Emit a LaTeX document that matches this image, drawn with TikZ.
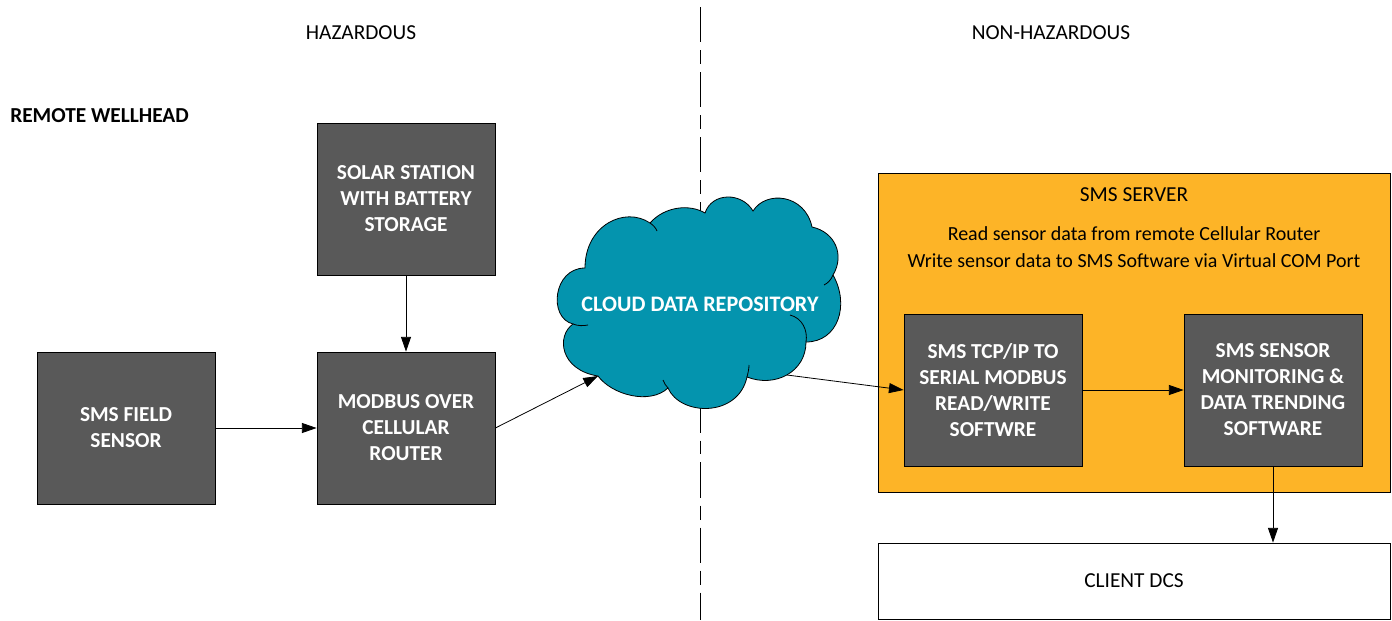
\documentclass[tikz,border=0pt]{standalone}
\usepackage{fontspec}
\setmainfont{Carlito}
\usetikzlibrary{arrows.meta}
\newlength{\pxu}\setlength{\pxu}{0.75pt}
\definecolor{boxgray}{HTML}{595959}
\definecolor{serverorange}{HTML}{FDB427}
\definecolor{cloudteal}{HTML}{0494AE}
\tikzset{
  darkbox/.style={draw=black,line width=.6pt,fill=boxgray,minimum width=178\pxu,minimum height=152\pxu,align=center,text=white,font=\fontsize{16}{19.5}\selectfont\bfseries},
  plainlabel/.style={font=\fontsize{16}{19}\selectfont,align=center},
  link/.style={draw=black,line width=.6pt,-{Triangle[length=11pt,width=7.5pt]}},
  curl/.style={line width=.6pt},
}
\begin{document}
\begin{tikzpicture}[x=0.75pt,y=-0.75pt]
  \useasboundingbox (0,0) rectangle (1392,621);
  % divider
  \draw[line width=.7pt,dash pattern=on 26.4pt off 6pt on 10.4pt off 6pt] (700,7) coordinate (divtop) -- (700,620) coordinate (divbot);
  \node[plainlabel] (hazard) at (361,33) {HAZARDOUS};
  \node[plainlabel] (nonhazard) at (1051,33) {NON-HAZARDOUS};
  \node[plainlabel,font=\fontsize{16}{19}\selectfont\bfseries,anchor=west,inner sep=0pt] (wellhead) at (10,116) {REMOTE WELLHEAD};
  % server
  \node[draw=black,line width=.6pt,fill=serverorange,minimum width=512\pxu,minimum height=319\pxu,anchor=north west] (server) at (878,173) {};
  \node[plainlabel] (servertitle) at (1134,195) {SMS SERVER};
  \node[plainlabel,font=\fontsize{15}{20}\selectfont] (servertext) at (1134,247) {Read sensor data from remote Cellular Router\\Write sensor data to SMS Software via Virtual COM Port};
  % boxes
  \node[darkbox] (solar) at (406,199) {SOLAR STATION\\WITH BATTERY\\STORAGE};
  \node[darkbox] (field) at (126,428) {SMS FIELD\\SENSOR};
  \node[darkbox] (router) at (406,428) {MODBUS OVER\\CELLULAR\\ROUTER};
  \node[darkbox] (tcp) at (993,390) {SMS TCP/IP TO\\SERIAL MODBUS\\READ/WRITE\\SOFTWRE};
  \node[darkbox] (trend) at (1273,390) {SMS SENSOR\\MONITORING \&\\DATA TRENDING\\SOFTWARE};
  \node[draw=black,line width=.6pt,fill=white,minimum width=512\pxu,minimum height=76\pxu,plainlabel] (client) at (1134,581) {CLIENT DCS};
  % cloud
  \draw[curl,fill=cloudteal] (573,324)
    .. controls (556,336) and (560,370) .. (598,376)
    .. controls (612,395) and (650,405) .. (668,388)
    .. controls (680,416) and (738,418) .. (747,377)
    .. controls (775,388) and (806,372) .. (806,342)
    .. controls (838,342) and (850,305) .. (833,275)
    .. controls (845,255) and (835,232) .. (812,227)
    .. controls (805,194) and (766,190) .. (753,211)
    .. controls (742,192) and (712,192) .. (705,213)
    .. controls (690,204) and (665,206) .. (650,223)
    .. controls (625,206) and (585,225) .. (585,268)
    .. controls (553,268) and (548,318) .. (573,324) -- cycle;
  \draw[curl] (573,324) .. controls (578,326) and (583,326) .. (588,325);
  \draw[curl] (650,223) .. controls (653,225) and (656,228) .. (657,231);
  \draw[curl] (833,275) .. controls (831,280) and (828,283) .. (824,285);
  \draw[curl] (806,342) .. controls (808,330) and (802,318) .. (790,315);
  \draw[curl] (747,377) .. controls (748,373) and (749,369) .. (749,365);
  \draw[curl] (668,388) .. controls (666,386) and (664,383) .. (663,380);
  \coordinate (cloudin) at (598,376);
  \coordinate (cloudout) at (787,375);
  \node[font=\fontsize{16.6}{18}\selectfont\bfseries,text=white] (cloudtext) at (700,304) {CLOUD DATA REPOSITORY};
  % connectors
  \draw[link] (solar) -- (router);
  \draw[link] (field) -- (router);
  \draw[link] (router.east) -- (cloudin);
  \draw[link] (cloudout) -- (tcp.west);
  \draw[link] (tcp) -- (trend);
  \draw[link] (trend) -- (trend|-client.north);
\end{tikzpicture}
\end{document}
